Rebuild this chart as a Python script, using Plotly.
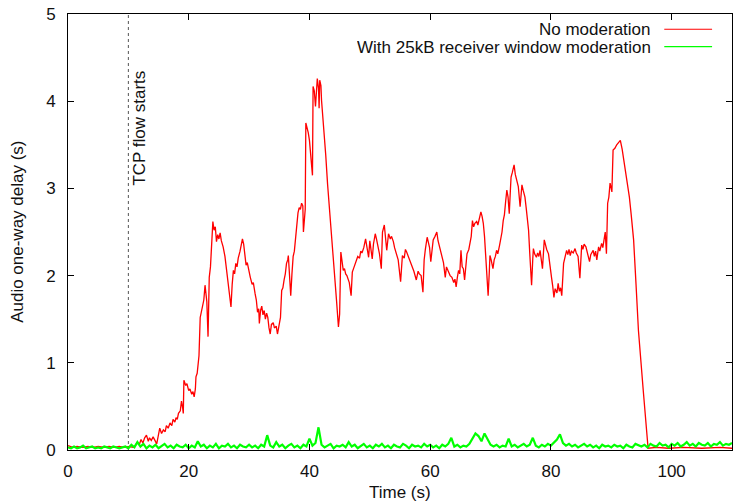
import plotly.graph_objects as go

# ---------------- data ----------------
# (time s, delay s) read from the "No moderation" curve
RED_SAMPLES = [
    (0, .05), (0.8, .03), (1.5, .04), (2.5, .03), (3.3, .04), (4.2, .03), (5, .04), (6, .03), (6.8, .04), (7.6, .03),
    (8.5, .04), (9.3, .03), (10.2, .04), (10.8, .03), (11.1, .05), (11.5, .09), (11.8, .06), (12.1, .12), (12.4, .08),
    (12.7, .14), (13.0, .17), (13.3, .10), (13.5, .14), (13.8, .11), (14.1, .15), (14.4, .10), (14.7, .07), (15.0, .18),
    (15.2, .25), (15.5, .19), (15.8, .23), (16.1, .21), (16.3, .28), (16.6, .25), (16.9, .31), (17.2, .28), (17.4, .35),
    (17.7, .32), (17.9, .37), (18.1, .35), (18.3, .42), (18.6, .45), (18.8, .56), (19.0, .48), (19.1, .42), (19.2, .80),
    (19.5, .74), (19.7, .76), (20.0, .68), (20.2, .70), (20.5, .64), (20.7, .67), (20.9, .61), (21.1, .70), (21.2, .84),
    (21.4, .88), (21.6, 1.03), (21.7, 1.08), (21.9, 1.52), (22.1, 1.60), (22.3, 1.66), (22.5, 1.72), (22.7, 1.89),
    (22.9, 1.80), (23.0, 1.70), (23.2, 1.30), (23.4, 1.98), (23.6, 2.10), (23.8, 2.35), (24.0, 2.62), (24.2, 2.52),
    (24.4, 2.56), (24.6, 2.39), (24.8, 2.47), (25.0, 2.42), (25.2, 2.49), (25.4, 2.40), (25.7, 2.33), (26.0, 2.22),
    (26.3, 2.06), (26.6, 1.88), (26.8, 1.75), (27.0, 1.64), (27.2, 1.90), (27.4, 2.06), (27.6, 2.02), (27.8, 2.14),
    (28.0, 2.10), (28.2, 2.20), (28.5, 2.28), (28.7, 2.35), (28.9, 2.42), (29.1, 2.36), (29.3, 2.20), (29.5, 2.12),
    (29.7, 2.15), (30.0, 2.02), (30.2, 1.98), (30.5, 1.90), (30.7, 1.92), (31.0, 1.79), (31.2, 1.72), (31.4, 1.58),
    (31.6, 1.62), (31.7, 1.45), (31.9, 1.60), (32.1, 1.65), (32.3, 1.55), (32.5, 1.60), (32.7, 1.50), (32.9, 1.57),
    (33.1, 1.52), (33.3, 1.40), (33.5, 1.33), (33.7, 1.44), (34.0, 1.46), (34.2, 1.40), (34.5, 1.42), (34.7, 1.33),
    (34.9, 1.42), (35.2, 1.52), (35.4, 1.83), (35.6, 1.86), (35.8, 1.95), (36.0, 2.02), (36.2, 2.14), (36.4, 2.18),
    (36.5, 2.23), (36.7, 2.05), (36.9, 1.77), (37.1, 2.02), (37.3, 2.22), (37.5, 2.28), (37.7, 2.45), (37.9, 2.55),
    (38.1, 2.72), (38.3, 2.78), (38.5, 2.76), (38.7, 2.83), (38.9, 2.80), (39.0, 2.50), (39.2, 2.72), (39.3, 2.76),
    (39.4, 3.75), (39.6, 3.70), (39.8, 3.64), (40.0, 3.55), (40.2, 3.40), (40.4, 3.25), (40.5, 3.15), (40.6, 4.17),
    (40.8, 4.12), (41.0, 3.94), (41.1, 4.10), (41.3, 4.26), (41.5, 4.15), (41.6, 3.92), (41.7, 4.24), (41.9, 4.18),
    (42.0, 4.01), (42.4, 3.70), (42.7, 3.38), (43.0, 3.05), (43.4, 2.71), (43.7, 2.42), (44.1, 2.05), (44.5, 1.70),
    (44.8, 1.41), (45.0, 1.56), (45.2, 2.27), (45.4, 2.15), (45.6, 2.06), (45.8, 2.08), (46.0, 2.02), (46.2, 2.00),
    (46.4, 1.96), (46.6, 1.92), (46.9, 1.77), (47.1, 2.04), (47.3, 2.08), (47.5, 2.12), (47.8, 2.18), (48.0, 2.22),
    (48.3, 2.20), (48.5, 2.28), (48.7, 2.26), (49.0, 2.32), (49.3, 2.42), (49.5, 2.35), (49.8, 2.21), (50.0, 2.40),
    (50.2, 2.30), (50.4, 2.19), (50.6, 2.36), (50.9, 2.48), (51.1, 2.42), (51.4, 2.33), (51.6, 2.25), (51.9, 2.08),
    (52.1, 2.50), (52.4, 2.58), (52.6, 2.45), (52.8, 2.29), (53.1, 2.48), (53.4, 2.42), (53.6, 2.45), (53.9, 2.39),
    (54.1, 2.32), (54.4, 2.25), (54.7, 2.18), (55.1, 1.93), (55.4, 2.23), (55.7, 2.20), (55.9, 2.30), (56.1, 2.27),
    (56.4, 2.22), (56.7, 2.16), (57.0, 2.10), (57.3, 2.05), (57.7, 1.95), (58.0, 2.05), (58.2, 2.02), (58.5, 2.00),
    (58.8, 1.81), (59.0, 2.18), (59.2, 2.30), (59.5, 2.44), (59.7, 2.38), (59.9, 2.32), (60.1, 2.16), (60.3, 2.30),
    (60.5, 2.41), (60.8, 2.45), (61.1, 2.50), (61.3, 2.40), (61.5, 2.35), (61.7, 2.29), (62.0, 2.20), (62.2, 2.15),
    (62.5, 1.98), (62.7, 2.10), (63.0, 2.05), (63.3, 2.00), (63.6, 1.98), (63.9, 1.92), (64.1, 1.96), (64.3, 1.87),
    (64.5, 1.98), (64.7, 2.06), (64.9, 2.02), (65.1, 2.29), (65.3, 2.10), (65.5, 2.08), (65.7, 1.95), (65.9, 2.15),
    (66.1, 2.25), (66.4, 2.30), (66.6, 2.39), (66.8, 2.45), (67.0, 2.63), (67.2, 2.56), (67.4, 2.60), (67.7, 2.62),
    (67.9, 2.58), (68.1, 2.66), (68.4, 2.73), (68.6, 2.68), (68.8, 2.60), (69.0, 2.45), (69.2, 2.20), (69.4, 1.95),
    (69.6, 1.77), (69.8, 2.05), (69.9, 2.23), (70.1, 2.18), (70.4, 2.08), (70.6, 2.18), (70.8, 2.22), (71.0, 2.29),
    (71.2, 2.25), (71.5, 2.35), (71.7, 2.42), (71.9, 2.50), (72.1, 2.63), (72.3, 2.70), (72.5, 2.85), (72.7, 2.98),
    (72.9, 2.90), (73.1, 2.71), (73.3, 3.00), (73.4, 3.13), (73.6, 3.18), (73.9, 3.27), (74.1, 3.16), (74.4, 3.09),
    (74.6, 3.02), (74.9, 2.79), (75.0, 2.85), (75.2, 3.04), (75.4, 2.98), (75.7, 2.90), (75.9, 2.78), (76.1, 2.65),
    (76.3, 2.52), (76.5, 2.25), (76.8, 1.89), (77.0, 2.20), (77.1, 2.31), (77.3, 2.25), (77.6, 2.21), (77.8, 2.26),
    (78.0, 2.22), (78.2, 2.29), (78.4, 2.15), (78.6, 2.08), (78.9, 2.41), (79.1, 2.35), (79.3, 2.30), (79.6, 2.25),
    (79.8, 2.12), (80.1, 1.98), (80.3, 1.88), (80.5, 1.75), (80.7, 1.85), (81.0, 1.80), (81.2, 1.91), (81.4, 1.82),
    (81.6, 1.86), (81.8, 1.77), (82.1, 2.14), (82.3, 2.22), (82.6, 2.29), (82.8, 2.24), (83.0, 2.30), (83.2, 2.23),
    (83.4, 2.28), (83.7, 2.26), (84.0, 2.31), (84.2, 2.26), (84.5, 2.22), (84.8, 1.97), (85.1, 2.35), (85.3, 2.30),
    (85.5, 2.36), (85.8, 2.33), (86.0, 2.26), (86.2, 2.20), (86.4, 2.16), (86.6, 2.24), (87.0, 2.29), (87.2, 2.22),
    (87.4, 2.28), (87.6, 2.18), (87.9, 2.33), (88.1, 2.28), (88.4, 2.37), (88.6, 2.32), (88.8, 2.45), (89.0, 2.50),
    (89.2, 2.25), (89.4, 2.83), (89.6, 2.90), (89.8, 3.06), (90.0, 3.00), (90.1, 2.96), (90.3, 3.44), (90.6, 3.46),
    (90.9, 3.50), (91.2, 3.52), (91.5, 3.55), (91.8, 3.45), (92.0, 3.36), (92.3, 3.25), (92.6, 3.13), (92.8, 3.02),
    (93.0, 2.90), (93.3, 2.70), (93.7, 2.41), (94.1, 1.90), (94.5, 1.37), (95.3, 0.68), (96.1, 0.02), (97.5, 0.03),
    (99.5, 0.02), (102, 0.03), (105, 0.02), (108, 0.03), (110, 0.02),
]
RED_T = [p[0] for p in RED_SAMPLES]
RED_DELAY = [p[1] for p in RED_SAMPLES]

# "With 25kB receiver window moderation": samples every 0.5 s from 0 s to 110 s
GREEN_STEP = 0.5
GREEN_DELAY = [
    0.03, 0.02, 0.04, 0.02, 0.03, 0.05, 0.02, 0.03, 0.04, 0.02, 0.03, 0.02, 0.04, 0.03, 0.02, 0.04, 0.03, 0.02, 0.03, 0.04, 0.02,
    0.06, 0.03, 0.09, 0.04, 0.07, 0.02, 0.05, 0.03, 0.06, 0.02, 0.05, 0.07, 0.03, 0.05, 0.02, 0.06, 0.04, 0.03, 0.06, 0.02,
    0.05, 0.03, 0.10, 0.04, 0.06, 0.02, 0.05, 0.03, 0.07, 0.02, 0.05, 0.04, 0.07, 0.03, 0.05, 0.02, 0.06, 0.04, 0.03, 0.06,
    0.03, 0.05, 0.02, 0.06, 0.04, 0.17, 0.05, 0.03, 0.09, 0.04, 0.06, 0.02, 0.05, 0.07, 0.03, 0.05, 0.02, 0.06, 0.04, 0.13,
    0.05, 0.08, 0.26, 0.06, 0.03, 0.05, 0.07, 0.02, 0.05, 0.04, 0.06, 0.03, 0.09, 0.04, 0.06, 0.02, 0.05, 0.07, 0.03, 0.05,
    0.02, 0.06, 0.04, 0.07, 0.03, 0.05, 0.02, 0.06, 0.04, 0.03, 0.07, 0.05, 0.02, 0.06, 0.04, 0.05, 0.03, 0.07, 0.04, 0.06,
    0.03, 0.05, 0.02, 0.06, 0.04, 0.07, 0.14, 0.04, 0.06, 0.03, 0.05, 0.04, 0.07, 0.13, 0.19, 0.16, 0.10, 0.19, 0.13, 0.06,
    0.04, 0.06, 0.03, 0.05, 0.04, 0.13, 0.04, 0.06, 0.03, 0.05, 0.07, 0.04, 0.06, 0.14, 0.05, 0.03, 0.06, 0.04, 0.07, 0.05,
    0.08, 0.12, 0.18, 0.08, 0.05, 0.07, 0.04, 0.06, 0.03, 0.05, 0.07, 0.04, 0.06, 0.03, 0.05, 0.02, 0.06, 0.04, 0.05, 0.03,
    0.06, 0.04, 0.05, 0.02, 0.06, 0.04, 0.03, 0.07, 0.05, 0.04, 0.06, 0.03, 0.07, 0.05, 0.04, 0.08, 0.05, 0.06, 0.03, 0.07,
    0.05, 0.08, 0.04, 0.06, 0.09, 0.05, 0.07, 0.04, 0.08, 0.06, 0.05, 0.08, 0.04, 0.07, 0.06, 0.09, 0.05, 0.07, 0.06, 0.08,
]
GREEN_T = [i * GREEN_STEP for i in range(len(GREEN_DELAY))]

SERIES_NAMES = ["No moderation", "With 25kB receiver window moderation"]
TCP_START = 10
X_TICKS = [0, 20, 40, 60, 80, 100]
Y_TICKS = [0, 1, 2, 3, 4, 5]

RED = "#ff0000"
GREEN = "#00ff00"
FONT = "Liberation Sans, Arial, Helvetica, sans-serif"
TXT = "#111111"

fig = go.Figure()
fig.add_trace(go.Scatter(x=RED_T, y=RED_DELAY, mode="lines", name=SERIES_NAMES[0],
                         line=dict(color=RED, width=1.3), showlegend=False))
fig.add_trace(go.Scatter(x=GREEN_T, y=GREEN_DELAY, mode="lines", name=SERIES_NAMES[1],
                         line=dict(color=GREEN, width=2.2), showlegend=False))

# vertical dotted marker where the TCP flow starts
fig.add_shape(type="line", xref="x", yref="y", x0=TCP_START, x1=TCP_START, y0=0, y1=5,
              line=dict(color="#555555", width=1, dash="dot"), layer="below")
fig.add_annotation(x=TCP_START, y=3.69, xref="x", yref="y", text="TCP flow starts",
                   textangle=-90, showarrow=False, xshift=11,
                   font=dict(family=FONT, size=17, color=TXT))

# gnuplot-style key (text right-aligned, sample line to its right)
legend_rows = [(SERIES_NAMES[0], RED, 0.965), (SERIES_NAMES[1], GREEN, 0.925)]
for name, col, yy in legend_rows:
    fig.add_annotation(x=0.881, y=yy, xref="paper", yref="paper", text=name, showarrow=False,
                       xanchor="right", yanchor="middle", height=16,
                       font=dict(family=FONT, size=17, color=TXT))
    fig.add_shape(type="line", xref="paper", yref="paper", x0=0.898, x1=0.970, y0=yy, y1=yy,
                  line=dict(color=col, width=1.2))

axis_common = dict(showgrid=False, zeroline=False, showline=True, linecolor="black", linewidth=1,
                   mirror="allticks", ticks="inside", ticklen=6, tickcolor="black", tickwidth=1,
                   tickfont=dict(family=FONT, size=17, color=TXT))

fig.update_xaxes(range=[0, 110], tickvals=X_TICKS, ticktext=[str(v) for v in X_TICKS],
                 ticklabelstandoff=6, **axis_common)
fig.update_yaxes(range=[0, 5], tickvals=Y_TICKS, ticktext=[str(v) for v in Y_TICKS],
                 ticklabelstandoff=8, **axis_common)

fig.add_annotation(x=0.5, y=-0.0963, xref="paper", yref="paper", text="Time (s)", showarrow=False,
                   xanchor="center", yanchor="middle", height=18,
                   font=dict(family=FONT, size=17, color=TXT))
fig.add_annotation(x=-0.077, y=0.5, xref="paper", yref="paper", text="Audio one-way delay (s)",
                   showarrow=False, textangle=-90, xanchor="center", yanchor="middle",
                   font=dict(family=FONT, size=17, color=TXT))

fig.update_layout(width=734, height=502, margin=dict(l=68, r=2, t=14, b=52),
                  paper_bgcolor="white", plot_bgcolor="white", showlegend=False,
                  font=dict(family=FONT, size=17, color=TXT))

fig.write_html("out.html")
